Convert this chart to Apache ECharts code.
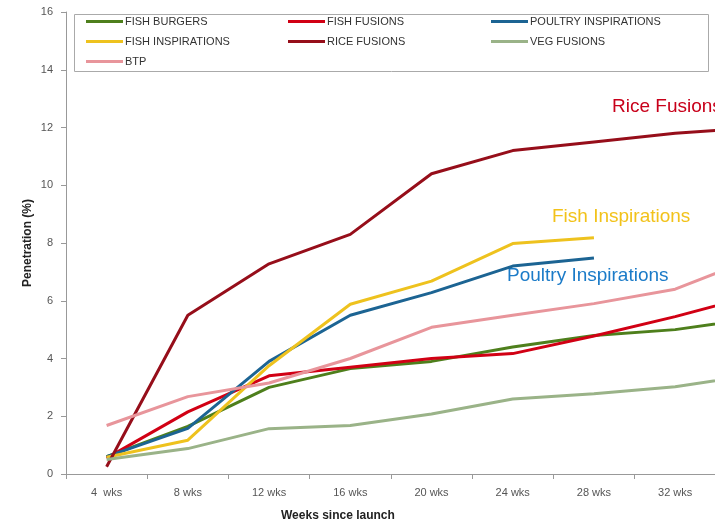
<!DOCTYPE html>
<html>
<head>
<meta charset="utf-8">
<script src="https://cdn.jsdelivr.net/npm/echarts@6/dist/echarts.min.js"></script>
<style>html,body{margin:0;padding:0;background:#fff;overflow:hidden;}#c{width:715px;height:527px;}</style>
</head>
<body>
<div id="c"></div>
<script>
const categories = ['4  wks','8 wks','12 wks','16 wks','20 wks','24 wks','28 wks','32 wks','36 wks'];
const fishBurgers = [0.6, 1.65, 3.0, 3.65, 3.9, 4.4, 4.8, 5.0, 5.4];
const fishFusions = [0.55, 2.15, 3.4, 3.7, 4.0, 4.17, 4.78, 5.45, 6.2];
const poultryInspirations = [0.6, 1.58, 3.9, 5.5, 6.28, 7.2, 7.48];
const fishInspirations = [0.58, 1.17, 3.75, 5.88, 6.68, 7.98, 8.18];
const riceFusions = [0.25, 5.5, 7.28, 8.3, 10.4, 11.2, 11.5, 11.8, 12.0];
const vegFusions = [0.5, 0.88, 1.57, 1.68, 2.08, 2.6, 2.78, 3.02, 3.45];
const btp = [1.68, 2.68, 3.15, 4.0, 5.08, 5.5, 5.9, 6.4, 7.5];
const yTicks = {min: 0, max: 16, interval: 2};

const seriesDefs = [
  ['FISH BURGERS', fishBurgers, '#4E7F1C'],
  ['FISH FUSIONS', fishFusions, '#D10014'],
  ['POULTRY INSPIRATIONS', poultryInspirations, '#1C6493'],
  ['FISH INSPIRATIONS', fishInspirations, '#EEC21E'],
  ['RICE FUSIONS', riceFusions, '#960E1A'],
  ['VEG FUSIONS', vegFusions, '#9AB388'],
  ['BTP', btp, '#E8959B']
];

const chart = echarts.init(document.getElementById('c'), null, {renderer: 'canvas'});
const legendBase = {
  orient: 'vertical', top: 11, itemWidth: 37, itemHeight: 3, itemGap: 9,
  icon: 'rect', textStyle: {fontFamily: 'Liberation Sans', fontSize: 11, color: '#333', padding: [0,0,0,-3]},
  selectedMode: false
};
chart.setOption({
  animation: false,
  backgroundColor: '#fff',
  grid: {left: 66, right: -82, top: 12, bottom: 53, containLabel: false, outerBoundsMode: 'none'},
  legend: [
    Object.assign({}, legendBase, {left: 81, data: ['FISH BURGERS','FISH INSPIRATIONS','BTP']}),
    Object.assign({}, legendBase, {left: 283, data: ['FISH FUSIONS','RICE FUSIONS']}),
    Object.assign({}, legendBase, {left: 486, data: ['POULTRY INSPIRATIONS','VEG FUSIONS']})
  ],
  xAxis: {
    type: 'category', data: categories, boundaryGap: true,
    axisLine: {lineStyle: {color: '#999'}},
    axisTick: {show: true, length: 5, lineStyle: {color: '#999'}},
    axisLabel: {color: '#555', fontSize: 11, fontFamily: 'Liberation Sans', margin: 13}
  },
  yAxis: {
    type: 'value', min: yTicks.min, max: yTicks.max, interval: yTicks.interval,
    splitLine: {show: false},
    axisLine: {show: true, lineStyle: {color: '#999'}},
    axisTick: {show: true, length: 5, lineStyle: {color: '#999'}},
    axisLabel: {color: '#555', fontSize: 11, fontFamily: 'Liberation Sans', margin: 13},
    name: 'Penetration (%)', nameLocation: 'middle', nameGap: 32, nameMoveOverlap: false,
    nameTextStyle: {fontWeight: 'bold', fontSize: 12, color: '#222', fontFamily: 'Liberation Sans'}
  },
  graphic: [
    {type: 'rect', left: 72, top: 12, shape: {width: 634, height: 57}, style: {fill: 'none', stroke: '#aaa', lineWidth: 1}, z: -1},
    {type: 'text', left: 281, top: 510, style: {text: 'Weeks since launch', font: 'bold 12px Liberation Sans', fill: '#222'}},
    {type: 'text', left: 612, top: 97, style: {text: 'Rice Fusions', font: '19px Liberation Sans', fill: '#C8001A'}},
    {type: 'text', left: 552, top: 207, style: {text: 'Fish Inspirations', font: '19px Liberation Sans', fill: '#F2C21A'}},
    {type: 'text', left: 507, top: 266, style: {text: 'Poultry Inspirations', font: '19px Liberation Sans', fill: '#1B7BC8'}}
  ],
  series: seriesDefs.map(([name, data, color]) => ({
    name, type: 'line', data, color, showSymbol: false, symbol: 'none',
    lineStyle: {width: 3, color}, itemStyle: {color}
  }))
});
</script>
</body>
</html>
